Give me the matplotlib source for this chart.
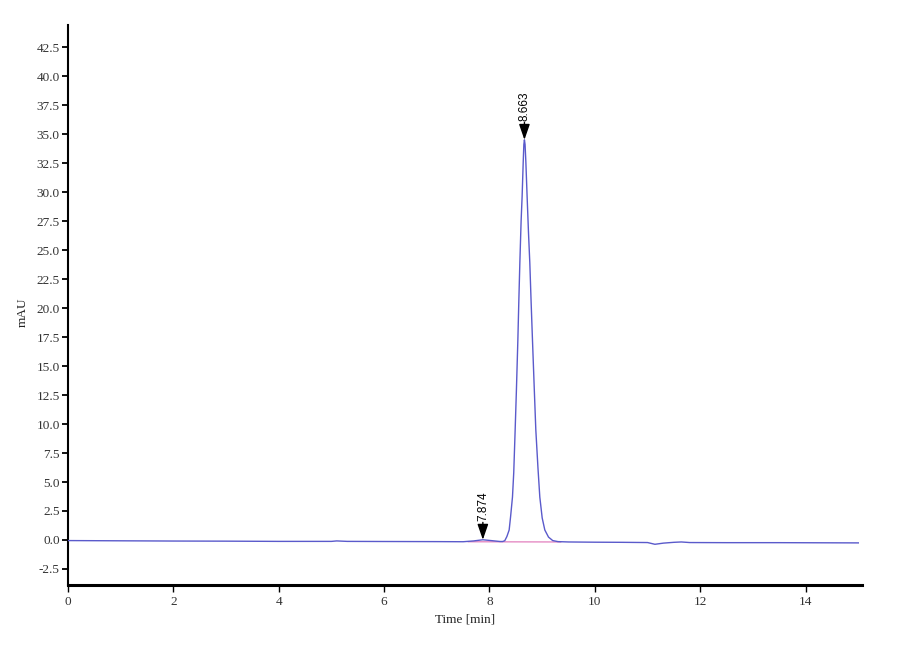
import matplotlib
matplotlib.use('Agg')
import matplotlib.pyplot as plt
from matplotlib.ticker import MultipleLocator, FormatStrFormatter

# trace (time in min, signal in mAU)
time_min = [0.0, 1.0, 2.0, 3.0, 4.0, 5.0, 5.1, 5.3, 6.0, 7.0, 7.5, 7.7, 7.874, 8.05, 8.2,
            8.25, 8.29, 8.33, 8.373, 8.40, 8.436, 8.46, 8.487, 8.51, 8.538, 8.556, 8.576,
            8.60, 8.619, 8.64, 8.652, 8.663, 8.675, 8.69, 8.714, 8.74, 8.765, 8.79, 8.816,
            8.85, 8.879, 8.92, 8.955, 9.00, 9.05, 9.12, 9.2, 9.3, 9.5, 10.0, 10.5, 11.0,
            11.14, 11.3, 11.5, 11.64, 11.8, 12.5, 13.5, 15.0]
signal_mau = [-0.05, -0.07, -0.09, -0.1, -0.12, -0.12, -0.08, -0.12, -0.13, -0.14, -0.15, -0.08, 0.02, -0.06, -0.13,
              -0.13, -0.06, 0.3, 0.86, 2.0, 3.7, 5.8, 9.5, 12.8, 17.2, 20.5, 23.9,
              27.5, 29.6, 32.6, 34.1, 34.5, 34.1, 32.6, 29.6, 26.5, 23.9, 20.5, 17.2,
              13.0, 9.5, 6.2, 3.7, 1.9, 0.86, 0.25, -0.05, -0.14, -0.17, -0.19, -0.2, -0.22,
              -0.37, -0.27, -0.2, -0.17, -0.22, -0.23, -0.23, -0.25]

# integration baseline
base_t = [7.6, 9.35]
base_v = [-0.15, -0.17]

# peak labels
peak_t = [7.874, 8.663]
peak_h = [0.02, 34.5]
peak_lbl = ['7.874', '8.663']

fig = plt.figure(figsize=(9, 6.6), dpi=100)
ax = fig.add_axes([68 / 900, 1 - 585 / 660, (862 - 68) / 900, (585 - 25) / 660])

ax.plot(base_t, base_v, color='#e58cc4', lw=1.0, zorder=2)
ax.plot(time_min, signal_mau, color='#5a5acb', lw=1.0, zorder=3)

for t, h, lbl in zip(peak_t, peak_h, peak_lbl):
    ax.annotate('', xy=(t, h), xytext=(0, 12.5), textcoords='offset points',
                arrowprops=dict(arrowstyle='-|>,head_length=0.95,head_width=0.33',
                                mutation_scale=10, color='black', lw=1.0,
                                shrinkA=0, shrinkB=0), zorder=5)
    ax.annotate(lbl, xy=(t, h), xytext=(0, 13.5), textcoords='offset points',
                rotation=90, ha='center', va='bottom', fontsize=8.5,
                family='Liberation Sans', color='black')

ax.set_xlim(0, 15.07)
ax.set_ylim(-3.88, 44.4)
ax.xaxis.set_major_locator(MultipleLocator(2))
ax.xaxis.set_major_formatter(FormatStrFormatter('%d'))
ax.yaxis.set_major_formatter(FormatStrFormatter('%.1f'))
ax.set_yticks([v * 2.5 for v in range(-1, 18)])

for s in ['top', 'right']:
    ax.spines[s].set_visible(False)
ax.spines['left'].set_linewidth(1.5)
ax.spines['bottom'].set_linewidth(2.2)
ax.tick_params(axis='y', direction='out', length=4, width=1.3, pad=2,
               labelsize=9.5, labelcolor='#333333')
ax.tick_params(axis='x', direction='out', length=5, width=1.0, pad=3,
               labelsize=9.5, labelcolor='#333333')
for lab in ax.get_xticklabels() + ax.get_yticklabels():
    lab.set_family('Liberation Serif')

ax.set_xlabel('Time [min]', family='Liberation Serif', fontsize=9.5, color='#222222')
ax.set_ylabel('mAU', family='Liberation Serif', fontsize=9.5, color='#222222')
ax.xaxis.set_label_coords(0.5, -0.05)
ax.yaxis.set_label_coords(-0.05, 0.4875)

fig.savefig('out.png', dpi=100, facecolor='white')
